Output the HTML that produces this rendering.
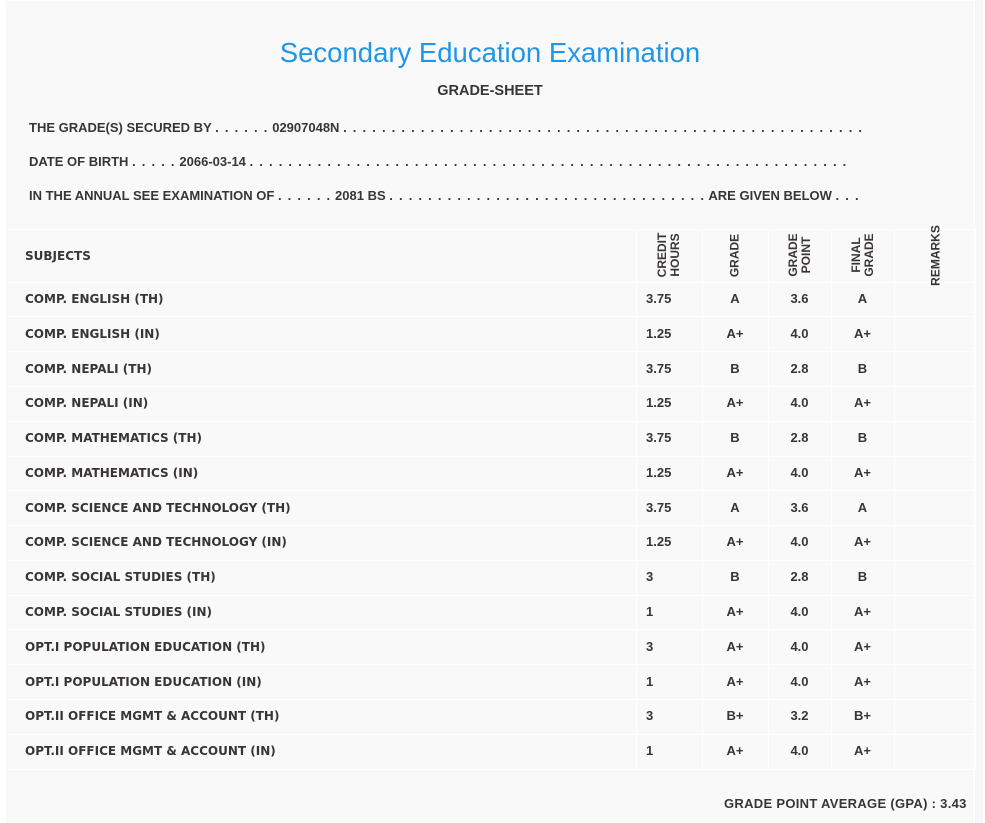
<!DOCTYPE html>
<html><head><meta charset="utf-8">
<style>
body{margin:0;width:985px;height:823px;background:#fff;font-family:"Liberation Sans",sans-serif;position:relative;overflow:hidden;color:#3a3535}
.strip{position:absolute;left:975px;top:0;width:8px;height:823px;background:#f7f7f7}
.box{position:absolute;left:6px;top:1px;width:968px;height:822px;background:#f9f9f9}
.t{position:absolute;white-space:nowrap;font-weight:bold;font-size:13px}
.d{letter-spacing:1.25px}
.title{position:absolute;left:0;width:980px;text-align:center;top:37px;font-size:27.5px;color:#2196e6;font-weight:normal}
.h{position:absolute;background:#fff;height:1px}
.v{position:absolute;background:#fff;width:1px}
.rot{position:absolute;font-weight:bold;font-size:12px;transform:rotate(-90deg);transform-origin:center;text-align:center;line-height:13px;white-space:nowrap}
.c{position:absolute;font-weight:bold;font-size:13px;text-align:center}
.s{font-family:"DejaVu Sans",sans-serif;font-size:12px;letter-spacing:0}
</style></head><body>
<div class="strip"></div>
<div class="box"></div>
<div class="title">Secondary Education Examination</div>
<div class="t" style="left:0;width:980px;text-align:center;top:83px;font-size:14.5px">GRADE-SHEET</div>
<div class="t" style="left:29px;top:120px">THE GRADE(S) SECURED BY <span class="d">. . . . . .</span> 02907048N <span class="d">. . . . . . . . . . . . . . . . . . . . . . . . . . . . . . . . . . . . . . . . . . . . . . . . . . . . . .</span></div>
<div class="t" style="left:29px;top:154px">DATE OF BIRTH <span class="d">. . . . .</span> 2066-03-14 <span class="d">. . . . . . . . . . . . . . . . . . . . . . . . . . . . . . . . . . . . . . . . . . . . . . . . . . . . . . . . . . . . . .</span></div>
<div class="t" style="left:29px;top:188px">IN THE ANNUAL SEE EXAMINATION OF <span class="d">. . . . . .</span> 2081 BS <span class="d">. . . . . . . . . . . . . . . . . . . . . . . . . . . . . . . . .</span> ARE GIVEN BELOW <span class="d">. . .</span></div>
<div id="grid"></div>
<div class="t s" style="left:25px;top:249px">SUBJECTS</div>
<div class="rot" style="left:639px;top:242px;width:60px">CREDIT<br>HOURS</div>
<div class="rot" style="left:705px;top:249px;width:60px">GRADE</div>
<div class="rot" style="left:770px;top:242px;width:60px">GRADE<br>POINT</div>
<div class="rot" style="left:833px;top:242px;width:60px">FINAL<br>GRADE</div>
<div class="rot" style="left:896px;top:249px;width:80px">REMARKS</div>
<div class="t" style="left:724px;top:796px;letter-spacing:0.3px">GRADE POINT AVERAGE (GPA) : 3.43</div>
<script>
var rows=[["COMP. ENGLISH (TH)","3.75","A","3.6","A"],["COMP. ENGLISH (IN)","1.25","A+","4.0","A+"],["COMP. NEPALI (TH)","3.75","B","2.8","B"],["COMP. NEPALI (IN)","1.25","A+","4.0","A+"],["COMP. MATHEMATICS (TH)","3.75","B","2.8","B"],["COMP. MATHEMATICS (IN)","1.25","A+","4.0","A+"],["COMP. SCIENCE AND TECHNOLOGY (TH)","3.75","A","3.6","A"],["COMP. SCIENCE AND TECHNOLOGY (IN)","1.25","A+","4.0","A+"],["COMP. SOCIAL STUDIES (TH)","3","B","2.8","B"],["COMP. SOCIAL STUDIES (IN)","1","A+","4.0","A+"],["OPT.I POPULATION EDUCATION (TH)","3","A+","4.0","A+"],["OPT.I POPULATION EDUCATION (IN)","1","A+","4.0","A+"],["OPT.II OFFICE MGMT & ACCOUNT (TH)","3","B+","3.2","B+"],["OPT.II OFFICE MGMT & ACCOUNT (IN)","1","A+","4.0","A+"]];
var h="";
var cols=[636,702,768,831,894,975];
h+='<div class="h" style="left:8px;width:967px;top:229px"></div>';
for(var k=0;k<=14;k++){var y=Math.round(281.6+34.78*k);h+='<div class="h" style="left:8px;width:967px;top:'+y+'px"></div>';}
cols.forEach(function(x){h+='<div class="v" style="left:'+x+'px;top:229px;height:540px"></div>';});
rows.forEach(function(r,k){var cy=299+34.78*k;var top=Math.round(cy-8);
h+='<div class="t s" style="left:25px;top:'+(top+1)+'px">'+r[0].replace("&","&amp;")+'</div>';
h+='<div class="t" style="left:646px;top:'+top+'px">'+r[1]+'</div>';
h+='<div class="c" style="left:702px;width:66px;top:'+top+'px">'+r[2]+'</div>';
h+='<div class="c" style="left:768px;width:63px;top:'+top+'px">'+r[3]+'</div>';
h+='<div class="c" style="left:831px;width:63px;top:'+top+'px">'+r[4]+'</div>';});
document.getElementById("grid").innerHTML=h;
</script>
</body></html>
